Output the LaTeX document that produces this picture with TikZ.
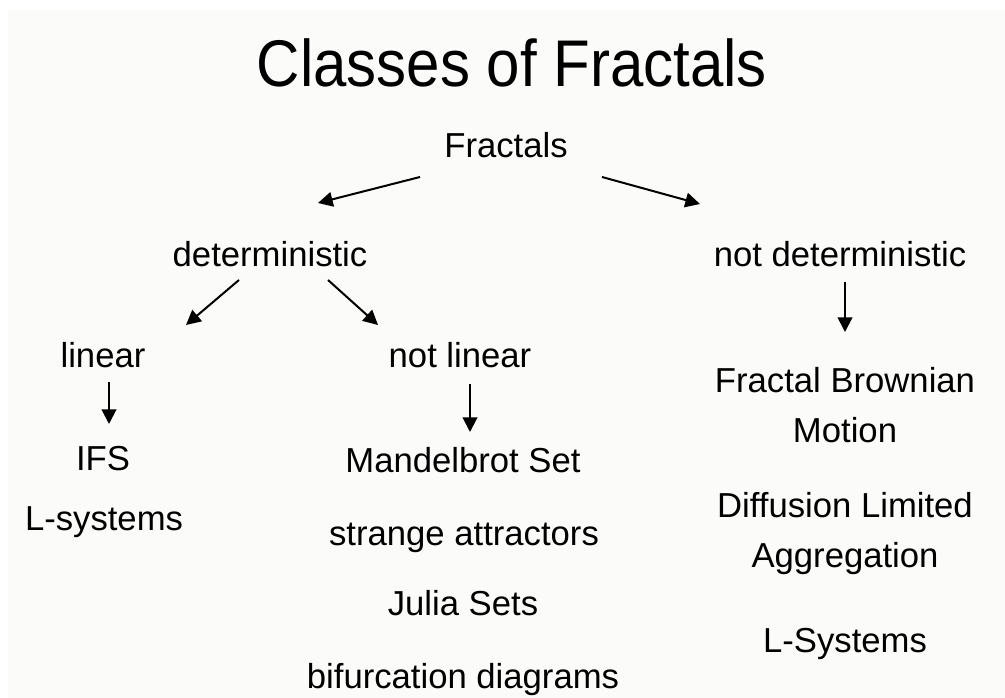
\documentclass[tikz,border=0pt]{standalone}
\usepackage{fontspec}
\setmainfont{Liberation Sans}
\usetikzlibrary{arrows.meta}
\definecolor{bgc}{RGB}{251,252,250}
\begin{document}
\begin{tikzpicture}[x=0.75pt,y=-0.75pt,
  lbl/.style={anchor=base, inner sep=0pt, font=\fontsize{26}{30}\selectfont},
  ttl/.style={anchor=base, inner sep=0pt, font=\fontsize{45}{50}\selectfont},
  arr/.style={line width=1.5pt, -{Triangle[length=11pt,width=11pt]}}]
\useasboundingbox (0,0) rectangle (1005,698);
\fill[white] (0,0) rectangle (1005,698);
\fill[bgc] (8,10) rectangle (1005,698);
% title
\node[ttl] (title) at (512,87) {\scalebox{1}[1.1]{Classes of Fractals}};
% nodes
\node[lbl] (fractals) at (506,158) {Fractals};
\node[lbl] (det) at (270,267) {deterministic};
\node[lbl] (ndet) at (840,267) {not deterministic};
\node[lbl] (lin) at (103,367) {linear};
\node[lbl] (nlin) at (460,367) {not linear};
\node[lbl] (ifs) at (103,470) {IFS};
\node[lbl] (lsys) at (104,530) {L-systems};
\node[lbl] (mand) at (463,472) {Mandelbrot Set};
\node[lbl] (strange) at (464,545) {strange attractors};
\node[lbl] (julia) at (463,615) {Julia Sets};
\node[lbl] (bif) at (463,688) {bifurcation diagrams};
\node[lbl] (fbm1) at (845,392) {Fractal Brownian};
\node[lbl] (fbm2) at (845,442) {Motion};
\node[lbl] (dla1) at (845,517) {Diffusion Limited};
\node[lbl] (dla2) at (845,567) {Aggregation};
\node[lbl] (lsys2) at (845,652) {L-Systems};
% arrow end points
\coordinate (a1s) at (420,177); \coordinate (a1e) at (318,203);
\coordinate (a2s) at (602,177); \coordinate (a2e) at (700,204);
\coordinate (a3s) at (239,280); \coordinate (a3e) at (186,325);
\coordinate (a4s) at (328,280); \coordinate (a4e) at (378,325);
\coordinate (a5s) at (845,282); \coordinate (a5e) at (845,332);
\coordinate (a6s) at (109,382); \coordinate (a6e) at (109,424);
\coordinate (a7s) at (470,384); \coordinate (a7e) at (470,432);
\draw[arr] (a1s) -- (a1e);
\draw[arr] (a2s) -- (a2e);
\draw[arr] (a3s) -- (a3e);
\draw[arr] (a4s) -- (a4e);
\draw[arr] (a5s) -- (a5e);
\draw[arr] (a6s) -- (a6e);
\draw[arr] (a7s) -- (a7e);
\end{tikzpicture}
\end{document}
